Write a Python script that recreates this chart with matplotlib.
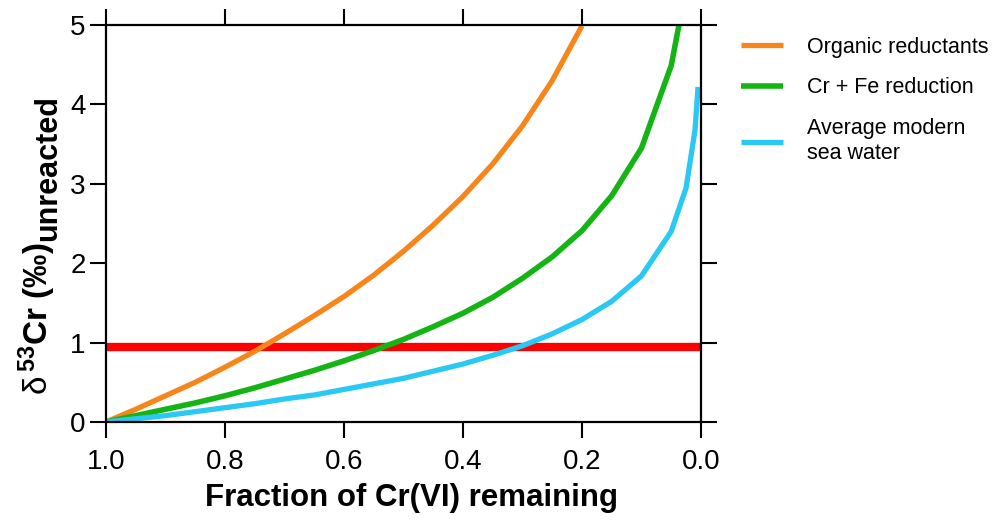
import matplotlib.pyplot as plt

plt.rcParams['font.family'] = ['Liberation Sans', 'DejaVu Sans']
plt.rcParams['mathtext.fontset'] = 'custom'
plt.rcParams['mathtext.rm'] = 'Liberation Sans'
plt.rcParams['mathtext.it'] = 'Liberation Sans'
plt.rcParams['mathtext.bf'] = 'Liberation Sans:bold'

# fraction of Cr(VI) remaining vs delta53Cr of the unreacted pool
fOrganic = [1.0, 0.95, 0.9, 0.85, 0.8, 0.75, 0.7, 0.65, 0.6, 0.55, 0.5, 0.45, 0.4, 0.35, 0.3, 0.25, 0.2]
dOrganic = [0, 0.16, 0.33, 0.50, 0.69, 0.89, 1.11, 1.34, 1.58, 1.85, 2.15, 2.48, 2.84, 3.25, 3.73, 4.30, 4.99]

fFe = [1.0, 0.95, 0.9, 0.85, 0.8, 0.75, 0.7, 0.65, 0.6, 0.55, 0.5, 0.45, 0.4, 0.35, 0.3, 0.25, 0.2, 0.15, 0.1, 0.05, 0.037]
dFe = [0, 0.08, 0.16, 0.24, 0.33, 0.43, 0.54, 0.65, 0.77, 0.90, 1.04, 1.20, 1.37, 1.57, 1.81, 2.08, 2.41, 2.85, 3.45, 4.49, 5.0]

fSea = [1.0, 0.95, 0.9, 0.85, 0.8, 0.75, 0.7, 0.65, 0.6, 0.55, 0.5, 0.45, 0.4, 0.35, 0.3, 0.25, 0.2, 0.15, 0.1, 0.05, 0.025, 0.01, 0.005]
dSea = [0, 0.04, 0.08, 0.13, 0.18, 0.23, 0.29, 0.34, 0.41, 0.48, 0.55, 0.64, 0.73, 0.84, 0.96, 1.11, 1.29, 1.52, 1.84, 2.40, 2.95, 3.68, 4.22]

redLevel = 0.95
xTicks = [1.0, 0.8, 0.6, 0.4, 0.2, 0.0]
yTicks = [0, 1, 2, 3, 4, 5]

fig = plt.figure(figsize=(9.98, 5.24), dpi=100)
ax = fig.add_axes([0.1062, 0.1947, 0.5962, 0.7576])

ax.plot(fOrganic, dOrganic, color="#F7861A", linewidth=3.8, label="Organic reductants", solid_capstyle="butt")
ax.plot(fFe, dFe, color="#14B414", linewidth=4.0, label="Cr + Fe reduction", solid_capstyle="butt")
ax.plot(fSea, dSea, color="#2AC8F4", linewidth=3.8, label="Average modern\nsea water", solid_capstyle="butt")
ax.axhline(redLevel, color="#FF0000", linewidth=6.0, zorder=1)

ax.set_xlim(1.0, 0.0)
ax.set_ylim(0, 5)
ax.set_xticks(xTicks)
ax.set_xticklabels(["%.1f" % v for v in xTicks])
ax.set_yticks(yTicks)

for side in ax.spines.values():
    side.set_linewidth(1.6)
ax.tick_params(direction="out", length=11.5, width=1.5, labelsize=20,
               top=True, right=True, labeltop=False, labelright=False)
ax.tick_params(axis="x", pad=8)
ax.tick_params(axis="y", pad=3)

ax.set_xlabel("Fraction of Cr(VI) remaining", fontsize=22.5, fontweight="bold")
ax.xaxis.set_label_coords(0.5 + 8 / 595, -0.153)
ax.xaxis.label.set_va("top")

# y label: main part plus a full-size lowered "unreacted"
ylab = fig.text(48 / 998, 1 - 395 / 524, r"$\delta\,{}^{\mathbf{53}}$Cr (‰)", rotation=90,
                rotation_mode="anchor", ha="left", va="baseline", fontsize=24, fontweight="bold")
fig.canvas.draw()
ext = ylab.get_window_extent()
fig.text(56 / 998, ext.y1 / fig.bbox.height + 1 / 524, "unreacted", rotation=90,
         rotation_mode="anchor", ha="left", va="baseline", fontsize=22, fontweight="bold")

leg = ax.legend(loc="upper left", bbox_to_anchor=(0.7425, 0.93), bbox_transform=fig.transFigure,
                frameon=False, fontsize=15.5, handlelength=1.95, handletextpad=1.12, labelspacing=0.92,
                borderpad=0, borderaxespad=0)
for t in leg.get_texts():
    t.set_linespacing(1.25)

fig.savefig("out.png", dpi=100)
